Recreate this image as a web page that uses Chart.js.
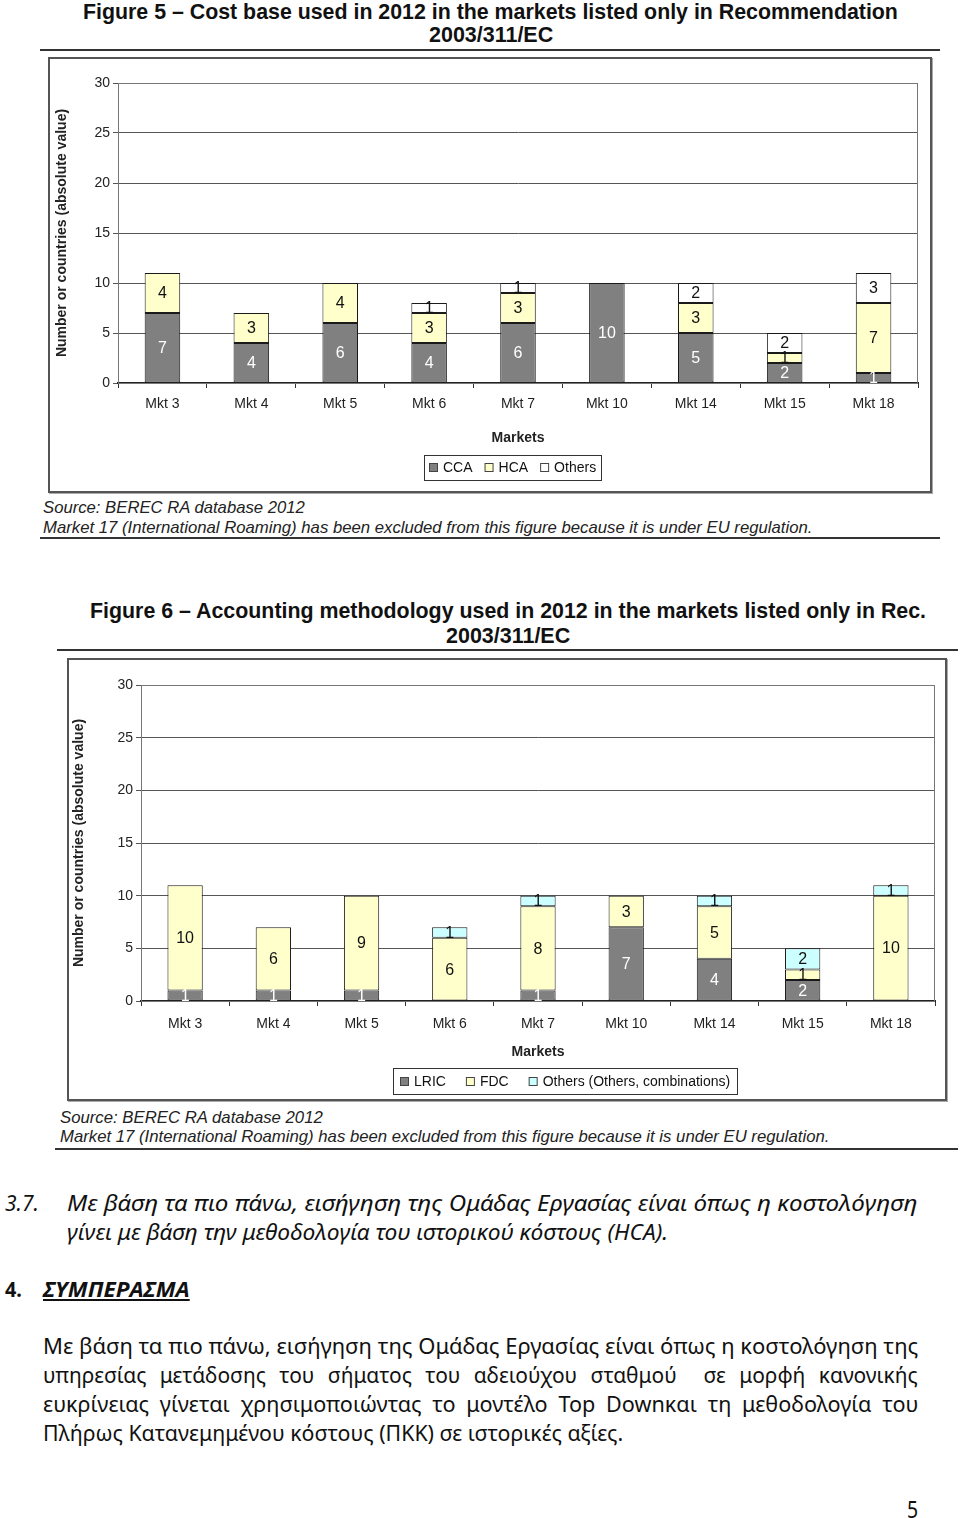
<!DOCTYPE html>
<html>
<head>
<meta charset="utf-8">
<script src="https://cdn.jsdelivr.net/npm/chart.js@4.4.1/dist/chart.umd.min.js"></script>
<style>
  html, body { margin: 0; padding: 0; background: #fff; }
  body { width: 960px; height: 1518px; position: relative; overflow: hidden; font-family: "Liberation Sans", Arial, sans-serif; color: #111; }
  .t { position: absolute; white-space: nowrap; display: inline-block; line-height: 1.2; transform-origin: 0 50%; }
  .rule { position: absolute; height: 0; border-top: 2px solid #333; }
  .box { position: absolute; box-sizing: border-box; border: 2px solid #555; box-shadow: 1px 1px 0 #aaa; }
  canvas { position: absolute; }
  .fig { font: bold 22px "Liberation Sans", Arial, sans-serif; color: #111; }
  .src { font: italic 17px "Liberation Sans", Arial, sans-serif; color: #222; }
  .gr { font: 21px "Noto Sans", "Open Sans", sans-serif; color: #111; }
</style>
</head>
<body>

<div class="t fig" data-x="83" data-y="12" data-w="815">Figure 5 – Cost base used in 2012 in the markets listed only in Recommendation</div>
<div class="t fig" data-x="429" data-y="35" data-w="124">2003/311/EC</div>
<div class="rule" style="left:40px;top:49px;width:900px"></div>
<div class="box" style="left:48px;top:57px;width:884px;height:436px"></div>
<canvas id="costChart" width="880" height="432" style="left:50px;top:59px"></canvas>
<div class="t src" data-x="43" data-y="508" data-w="262">Source: BEREC RA database 2012</div>
<div class="t src" data-x="43" data-y="528" data-w="769">Market 17 (International Roaming) has been excluded from this figure because it is under EU regulation.</div>
<div class="rule" style="left:40px;top:537px;width:900px"></div>

<div class="t fig" data-x="90" data-y="611" data-w="836">Figure 6 – Accounting methodology used in 2012 in the markets listed only in Rec.</div>
<div class="t fig" data-x="446" data-y="636" data-w="124">2003/311/EC</div>
<div class="rule" style="left:57px;top:649px;width:901px"></div>
<div class="box" style="left:67px;top:658px;width:880px;height:443px"></div>
<canvas id="methodChart" width="876" height="439" style="left:69px;top:660px"></canvas>
<div class="t src" data-x="60" data-y="1118" data-w="263">Source: BEREC RA database 2012</div>
<div class="t src" data-x="60" data-y="1137" data-w="769">Market 17 (International Roaming) has been excluded from this figure because it is under EU regulation.</div>
<div class="rule" style="left:55px;top:1148px;width:903px"></div>

<div class="t gr" data-x="5" data-y="1203" data-w="34" style="font-style:italic">3.7.</div>
<div class="t gr" data-x="67" data-y="1203" data-w="851" style="font-style:italic">Με βάση τα πιο πάνω, εισήγηση της Ομάδας Εργασίας είναι όπως η κοστολόγηση</div>
<div class="t gr" data-x="67" data-y="1232" data-w="601" style="font-style:italic">γίνει με βάση την μεθοδολογία του ιστορικού κόστους (HCA).</div>
<div class="t gr" data-x="5" data-y="1289" data-w="17" style="font-weight:bold">4.</div>
<div class="t gr" data-x="43" data-y="1289" data-w="147" style="font-weight:bold;font-style:italic;text-decoration:underline">ΣΥΜΠΕΡΑΣΜΑ</div>
<div class="t gr" data-x="43" data-y="1346" data-w="875">Με βάση τα πιο πάνω, εισήγηση της Ομάδας Εργασίας είναι όπως η κοστολόγηση της</div>
<div class="t gr" data-x="43" data-y="1375" data-w="875" style="word-spacing:8px">υπηρεσίας μετάδοσης του σήματος του αδειούχου σταθμού&nbsp; σε μορφή κανονικής</div>
<div class="t gr" data-x="43" data-y="1404" data-w="875" style="word-spacing:5px">ευκρίνειας γίνεται χρησιμοποιώντας το μοντέλο Top Downκαι τη μεθοδολογία του</div>
<div class="t gr" data-x="43" data-y="1433" data-w="580">Πλήρως Κατανεμημένου κόστους (ΠΚΚ) σε ιστορικές αξίες.</div>
<div class="t gr" data-x="907" data-y="1509" data-w="11" style="font-size:23px">5</div>

<script>
// shared categories and axis
const markets = ['Mkt 3', 'Mkt 4', 'Mkt 5', 'Mkt 6', 'Mkt 7', 'Mkt 10', 'Mkt 14', 'Mkt 15', 'Mkt 18'];
const yMin = 0;
const yMax = 30;
const yStep = 5;

// Figure 5 - cost base
const ccaCounts = [7, 4, 6, 4, 6, 10, 5, 2, 1];
const hcaCounts = [4, 3, 4, 3, 3, 0, 3, 1, 7];
const costOthers = [0, 0, 0, 1, 1, 0, 2, 2, 3];

// Figure 6 - accounting methodology
const lricCounts = [1, 1, 1, 0, 1, 7, 4, 2, 0];
const fdcCounts = [10, 6, 9, 6, 8, 3, 5, 1, 10];
const methodOthers = [0, 0, 0, 1, 1, 0, 1, 2, 1];

Chart.defaults.font.family = '"Liberation Sans", Arial, sans-serif';
Chart.defaults.color = '#222';

// border round the plot area
const plotFrame = {
  id: 'plotFrame',
  beforeDatasetsDraw(chart) {
    const { ctx, chartArea: a } = chart;
    ctx.save();
    ctx.strokeStyle = '#777';
    ctx.lineWidth = 1;
    ctx.strokeRect(a.left + 0.5, a.top + 0.5, a.right - a.left - 1, a.bottom - a.top);
    ctx.restore();
  }
};

// value written in the middle of each segment
const barLabels = {
  id: 'barLabels',
  afterDatasetsDraw(chart) {
    const ctx = chart.ctx;
    ctx.save();
    ctx.font = '16px "Liberation Sans", Arial, sans-serif';
    ctx.textAlign = 'center';
    ctx.textBaseline = 'middle';
    chart.data.datasets.forEach((ds, i) => {
      const meta = chart.getDatasetMeta(i);
      meta.data.forEach((bar, j) => {
        const v = ds.data[j];
        if (!v) return;
        ctx.fillStyle = ds.labelColor;
        ctx.fillText(String(v), bar.x, (bar.y + bar.base) / 2 + 1);
      });
    });
    ctx.restore();
  }
};

// excel style legend in a box
const boxLegend = {
  id: 'boxLegend',
  afterDraw(chart, args, opts) {
    const ctx = chart.ctx;
    ctx.save();
    ctx.font = '14px "Liberation Sans", Arial, sans-serif';
    const sq = 9, sp = 5;
    const items = chart.data.datasets.map(ds => ({ ds, w: sq + sp + ctx.measureText(ds.label).width }));
    const inner = items.reduce((s, it) => s + it.w, 0) + opts.gap * (items.length - 1);
    const w = Math.round(inner + 2 * opts.pad);
    const left = Math.round(opts.cx - w / 2);
    ctx.fillStyle = '#fff';
    ctx.fillRect(left, opts.top, w, opts.h);
    ctx.strokeStyle = '#333';
    ctx.lineWidth = 1;
    ctx.strokeRect(left + 0.5, opts.top + 0.5, w, opts.h);
    let x = left + opts.pad;
    const cy = opts.top + opts.h / 2;
    items.forEach(it => {
      ctx.fillStyle = it.ds.backgroundColor;
      ctx.fillRect(x, Math.round(cy - sq / 2), sq, sq);
      ctx.strokeStyle = '#444';
      ctx.strokeRect(x + 0.5, Math.round(cy - sq / 2) + 0.5, sq - 1, sq - 1);
      ctx.fillStyle = '#111';
      ctx.textAlign = 'left';
      ctx.textBaseline = 'middle';
      ctx.fillText(it.ds.label, x + sq + sp, cy + 1);
      x += it.w + opts.gap;
    });
    ctx.restore();
  }
};

function makeChart(id, datasets, opt) {
  return new Chart(document.getElementById(id), {
    type: 'bar',
    data: { labels: markets, datasets: datasets },
    options: {
      responsive: false,
      animation: false,
      layout: { padding: { top: opt.top, right: opt.right, left: 0, bottom: 0 } },
      datasets: {
        bar: { barPercentage: 0.4, categoryPercentage: 1, borderWidth: 1, borderColor: '#1a1a1a', borderSkipped: false }
      },
      plugins: {
        legend: { display: false },
        tooltip: { enabled: false },
        boxLegend: opt.legend
      },
      scales: {
        x: {
          stacked: true,
          grid: { drawOnChartArea: false, drawTicks: true, tickLength: 5, color: '#333', offset: true },
          border: { color: '#222', width: 2 },
          ticks: { font: { size: 14 }, padding: opt.xPad },
          title: { display: true, text: opt.xTitle, font: { size: 14, weight: 'bold' }, padding: { top: 0, bottom: opt.xTitlePad } },
          afterFit: s => { s.height = opt.bottom; }
        },
        y: {
          stacked: true,
          min: yMin,
          max: yMax,
          ticks: { stepSize: yStep, font: { size: 14 }, padding: 3 },
          grid: { color: '#555', tickLength: 5 },
          border: { color: '#222', width: 1 },
          title: { display: true, text: 'Number or countries (absolute value)', font: { size: 14, weight: 'bold' }, padding: { top: opt.yTitlePad, bottom: 0 } },
          afterFit: s => { s.width = opt.left; }
        }
      }
    },
    plugins: [plotFrame, barLabels, boxLegend]
  });
}

function placeText() {
  document.querySelectorAll('.t').forEach(el => {
    const w0 = el.offsetWidth, h0 = el.offsetHeight;
    el.style.left = el.dataset.x + 'px';
    el.style.top = (+el.dataset.y - h0 / 2) + 'px';
    if (el.dataset.w) el.style.transform = 'scaleX(' + (+el.dataset.w / w0) + ')';
  });
}

function drawAll() {
  placeText();

  makeChart('costChart', [
    { label: 'CCA', data: ccaCounts, backgroundColor: '#808080', labelColor: '#fff' },
    { label: 'HCA', data: hcaCounts, backgroundColor: '#ffffcc', labelColor: '#111' },
    { label: 'Others', data: costOthers, backgroundColor: '#ffffff', labelColor: '#111' }
  ], {
    top: 24, right: 12, left: 68, bottom: 108,
    xPad: 8, xTitle: 'Markets', xTitlePad: 44, yTitlePad: 4,
    legend: { cx: 462, top: 396, h: 25, gap: 12, pad: 5 }
  });

  makeChart('methodChart', [
    { label: 'LRIC', data: lricCounts, backgroundColor: '#808080', labelColor: '#fff' },
    { label: 'FDC', data: fdcCounts, backgroundColor: '#ffffcc', labelColor: '#111' },
    { label: 'Others (Others, combinations)', data: methodOthers, backgroundColor: '#ccffff', labelColor: '#111' }
  ], {
    top: 25, right: 10, left: 72, bottom: 98,
    xPad: 10, xTitle: 'Markets', xTitlePad: 38, yTitlePad: 2,
    legend: { cx: 496, top: 408, h: 26, gap: 20, pad: 7 }
  });
}

if (document.fonts && document.fonts.ready) {
  document.fonts.ready.then(drawAll);
} else {
  drawAll();
}
</script>
</body>
</html>
